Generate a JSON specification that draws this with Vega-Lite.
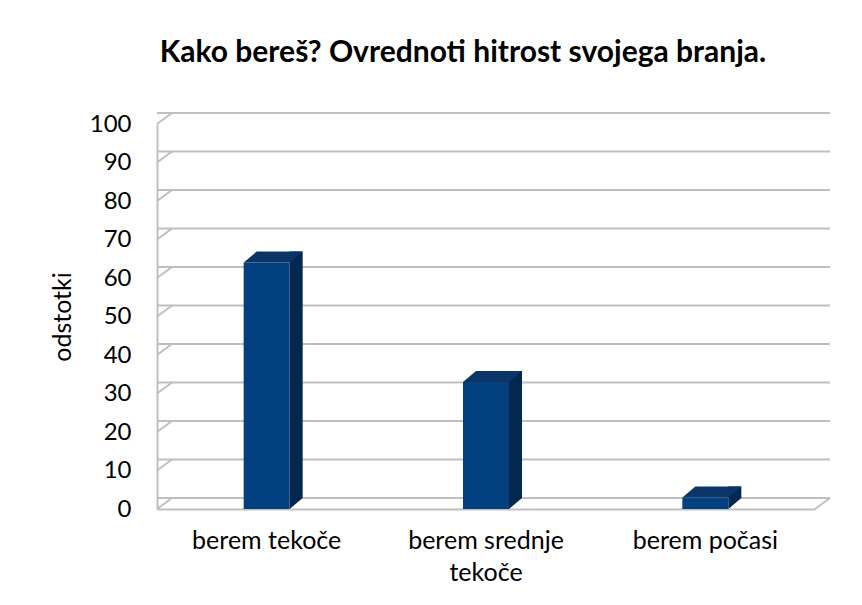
{
  "$schema": "https://vega.github.io/schema/vega-lite/v6.json",
  "autosize": "none",
  "width": 658,
  "height": 385,
  "padding": {"left": 157, "top": 124, "right": 47, "bottom": 96},
  "background": "white",
  "config": {
    "view": {"stroke": null},
    "font": "Lato",
    "axis": {"labelFont": "Lato", "titleFont": "Lato", "labelColor": "#000000", "titleColor": "#000000"}
  },
  "title": {
    "text": "Kako bereš? Ovrednoti hitrost svojega branja.",
    "font": "Lato",
    "fontSize": 30,
    "fontWeight": "bold",
    "color": "#000000",
    "anchor": "middle",
    "frame": "group",
    "dx": -23,
    "baseline": "alphabetic",
    "offset": 17
  },
  "datasets": {
    "bars": [
      {"kategorija": "berem tekoče", "odstotki": 64},
      {"kategorija": "berem srednje tekoče", "odstotki": 33},
      {"kategorija": "berem počasi", "odstotki": 3}
    ],
    "grid": [
      {"v": 0}, {"v": 10}, {"v": 20}, {"v": 30}, {"v": 40}, {"v": 50},
      {"v": 60}, {"v": 70}, {"v": 80}, {"v": 90}, {"v": 100}
    ]
  },
  "data": {"name": "bars"},
  "encoding": {
    "x": {
      "field": "kategorija",
      "type": "nominal",
      "sort": null,
      "scale": {"domain": ["berem tekoče", "berem srednje tekoče", "berem počasi"], "paddingInner": 0, "paddingOuter": 0},
      "axis": {
        "title": null,
        "labelAngle": 0,
        "labelFontSize": 25,
        "labelPadding": 19,
        "labelLineHeight": 32,
        "labelBaseline": "top",
        "ticks": false,
        "domainColor": "#BFBFBF",
        "domainWidth": 2,
        "labelExpr": "datum.label == 'berem srednje tekoče' ? ['berem srednje', 'tekoče'] : datum.label"
      }
    },
    "y": {
      "field": "odstotki",
      "type": "quantitative",
      "scale": {"domain": [0, 100], "nice": false},
      "axis": {
        "title": "odstotki",
        "titleFontSize": 25,
        "titleFontWeight": "normal",
        "titlePadding": 14,
        "labelFontSize": 24,
        "labelPadding": 26,
        "values": [0, 10, 20, 30, 40, 50, 60, 70, 80, 90, 100],
        "ticks": false,
        "grid": false,
        "domainColor": "#BFBFBF",
        "domainWidth": 2
      }
    }
  },
  "layer": [
    {
      "data": {"name": "grid"},
      "mark": {"type": "rule", "color": "#BFBFBF", "strokeWidth": 2, "xOffset": 15, "x2Offset": 15, "yOffset": -11},
      "encoding": {"x": null, "y": {"field": "v", "type": "quantitative"}}
    },
    {
      "data": {"name": "grid"},
      "mark": {"type": "rect", "fill": null, "fillOpacity": 0, "stroke": "#BFBFBF", "strokeWidth": 2, "xOffset": 15, "x2Offset": 15, "yOffset": -11, "y2Offset": -11},
      "transform": [{"filter": "datum.v == 0"}],
      "encoding": {"x": null, "y": {"datum": 0, "type": "quantitative"}, "y2": {"datum": 100}}
    },
    {
      "data": {"name": "grid"},
      "mark": {"type": "point", "shape": "M0,0L15,-11", "size": 4, "filled": false, "opacity": 1, "stroke": "#BFBFBF", "strokeWidth": 2},
      "encoding": {
        "x": {"datum": "berem tekoče", "type": "nominal", "bandPosition": 0},
        "y": {"field": "v", "type": "quantitative"}
      }
    },
    {
      "mark": {"type": "point", "shape": "M0,0L15,-11", "size": 4, "filled": false, "opacity": 1, "stroke": "#BFBFBF", "strokeWidth": 2},
      "transform": [{"filter": "datum.kategorija == 'berem počasi'"}],
      "encoding": {
        "x": {"field": "kategorija", "type": "nominal", "bandPosition": 1},
        "y": {"datum": 0, "type": "quantitative"}
      }
    },
    {
      "mark": {"type": "bar", "width": 13, "xOffset": 29.5, "yOffset": -11, "y2Offset": -11, "color": "#03284F"},
      "encoding": {"y2": {"datum": 0}}
    },
    {
      "mark": {"type": "point", "shape": "M23,0L36,-11L23,-11Z", "size": 4, "filled": true, "opacity": 1, "color": "#03284F", "strokeWidth": 0},
      "encoding": {"y": {"datum": 0, "type": "quantitative"}}
    },
    {
      "mark": {"type": "bar", "width": 46, "color": "#02407F"}
    },
    {
      "mark": {"type": "point", "shape": "M-23,0L23,0L36,-11L-10,-11Z", "size": 4, "filled": true, "opacity": 1, "color": "#0A3566", "strokeWidth": 0}
    }
  ]
}
